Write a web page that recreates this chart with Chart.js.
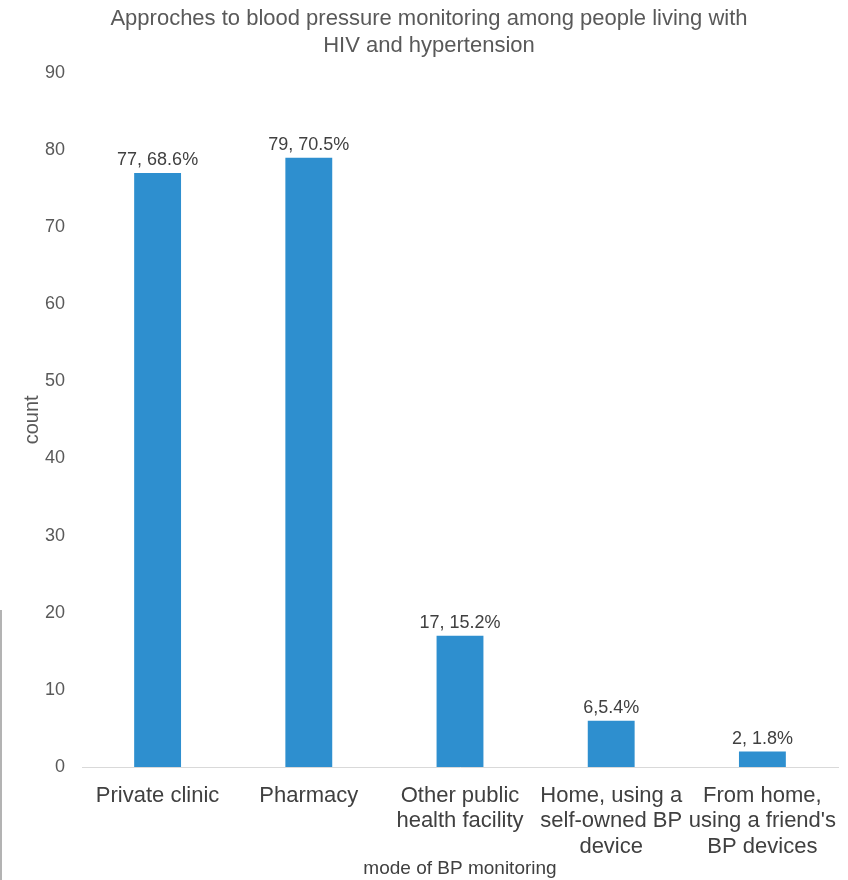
<!DOCTYPE html>
<html>
<head>
<meta charset="utf-8">
<script src="https://cdn.jsdelivr.net/npm/chart.js@4/dist/chart.umd.min.js"></script>
<style>
  html, body { margin: 0; padding: 0; background: #fff; }
  #wrap { position: relative; width: 848px; height: 880px; }
  #edge { position: absolute; left: 0; top: 610px; width: 2px; height: 270px; background: #b3b3b3; }
</style>
</head>
<body>
<div id="wrap">
  <canvas id="bpChart" width="848" height="880"></canvas>
  <div id="edge"></div>
</div>
<script>
const CATEGORIES = [
  'Private clinic',
  'Pharmacy',
  ['Other public', 'health facility'],
  ['Home, using a', 'self-owned BP', 'device'],
  ['From home,', "using a friend's", 'BP devices'],
];

const COUNTS = [77, 79, 17, 6, 2];

const PERCENTS = ['68.6%', '70.5%', '15.2%', '5.4%', '1.8%'];

const SEPARATORS = [', ', ', ', ', ', ',', ', '];

const Y_TICKS = [0, 10, 20, 30, 40, 50, 60, 70, 80, 90];

const BAR_COLOR = '#2e8fcf';
const TEXT_COLOR = '#595959';
const FONT = "'Liberation Sans', Arial, sans-serif";

// writes "count, percent" above each bar
const valueLabels = {
  id: 'valueLabels',
  afterDatasetsDraw(chart) {
    const { ctx } = chart;
    const meta = chart.getDatasetMeta(0);
    ctx.save();
    ctx.font = `18px ${FONT}`;
    ctx.fillStyle = '#404040';
    ctx.textAlign = 'center';
    ctx.textBaseline = 'middle';
    meta.data.forEach((bar, i) => {
      ctx.fillText(`${COUNTS[i]}${SEPARATORS[i]}${PERCENTS[i]}`, bar.x, bar.y - 13);
    });
    ctx.restore();
  },
};

document.addEventListener('DOMContentLoaded', () => {
  const ctx = document.getElementById('bpChart').getContext('2d');

  new Chart(ctx, {
    type: 'bar',
    data: {
      labels: CATEGORIES,
      datasets: [
        {
          data: COUNTS,
          backgroundColor: BAR_COLOR,
          borderWidth: 0,
          barPercentage: 0.31,
          categoryPercentage: 1,
        },
      ],
    },
    options: {
      responsive: false,
      animation: false,
      layout: { padding: { left: 20, right: 10, top: 0, bottom: 0 } },
      plugins: {
        legend: { display: false },
        tooltip: { enabled: false },
        title: {
          display: true,
          text: ['Approches to blood pressure monitoring among people living with', 'HIV and hypertension'],
          color: TEXT_COLOR,
          font: { family: FONT, size: 22, weight: 'normal', lineHeight: 1.2 },
          padding: { top: 6, bottom: 14 },
        },
      },
      scales: {
        x: {
          grid: { display: false },
          border: { display: true, color: '#d9d9d9', width: 1 },
          ticks: {
            color: '#404040',
            font: { family: FONT, size: 22, lineHeight: 1.16 },
            padding: 8,
            maxRotation: 0,
            autoSkip: false,
          },
          title: {
            display: true,
            text: 'mode of BP monitoring',
            color: '#404040',
            font: { family: FONT, size: 19 },
            padding: { top: 0, bottom: 0 },
          },
          afterFit: (axis) => {
            axis.height = 113;
          },
        },
        y: {
          min: 0,
          max: 90,
          afterBuildTicks: (axis) => {
            axis.ticks = Y_TICKS.map((v) => ({ value: v }));
          },
          grid: { display: false },
          border: { display: false },
          ticks: {
            color: TEXT_COLOR,
            font: { family: FONT, size: 18 },
            padding: 9,
          },
          title: {
            display: true,
            text: 'count',
            color: TEXT_COLOR,
            font: { family: FONT, size: 20 },
            padding: { top: 0, bottom: 0 },
          },
          afterFit: (axis) => {
            axis.width = 62;
          },
        },
      },
    },
    plugins: [valueLabels],
  });
});
</script>
</body>
</html>
